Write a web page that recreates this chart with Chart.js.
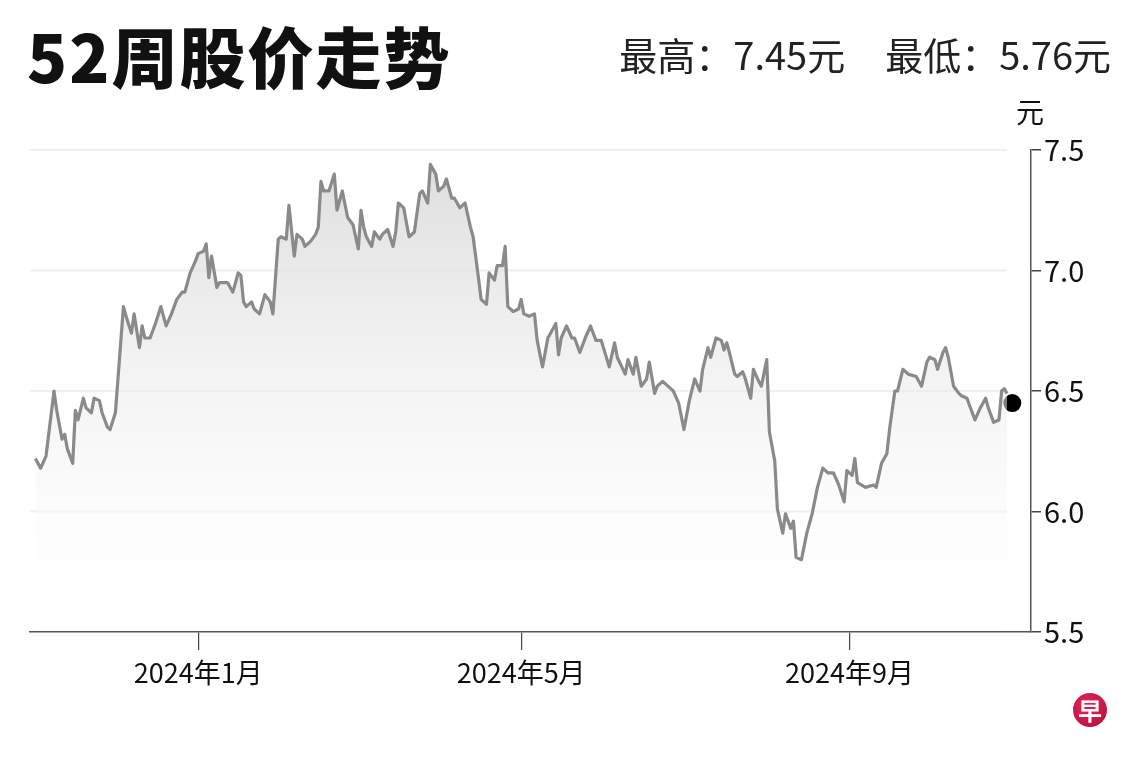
<!DOCTYPE html>
<html>
<head>
<meta charset="utf-8">
<script src="https://cdn.jsdelivr.net/npm/chart.js@4.4.1/dist/chart.umd.min.js"></script>
<style>
html,body{margin:0;padding:0;background:#fff;}
#wrap{position:relative;width:1140px;height:760px;overflow:hidden;font-family:"Noto Sans CJK SC","Noto Sans",sans-serif;color:#111;}
#c{position:absolute;left:0;top:0;}
.title{position:absolute;left:27px;top:18px;font-size:66px;font-weight:900;line-height:1.1;letter-spacing:2px;color:#111;}
.hl{position:absolute;right:29px;top:33px;font-size:38px;line-height:1.1;color:#222;white-space:nowrap;}
.hl span+span{margin-left:40px;}
.unit{position:absolute;left:1016px;top:96px;font-size:28px;line-height:1.1;color:#111;}
.logo{position:absolute;left:1073px;top:693px;width:34px;height:34px;border-radius:50%;background:radial-gradient(circle at 40% 35%,#e0245a,#b30f3c);color:#fff;font-size:24px;font-weight:700;line-height:34px;text-align:center;}
</style>
</head>
<body>
<div id="wrap">
  <canvas id="c" width="1140" height="760"></canvas>
  <div class="title">52周股价走势</div>
  <div class="hl"><span>最高：7.45元</span><span>最低：5.76元</span></div>
  <div class="unit">元</div>
  <div class="logo">早</div>
</div>
<script>
// Days counted from 2024-01-01 (negative = late 2023)
const days = [-61,-59,-57,-54,-53,-51,-50,-49,-47,-46,-45,-43,-42,-40,-39,-37,-36,-34,-33,-31,
  -28,-27,-25,-24,-22,-21,-20,-18,-16,-14,-12,-10,-8,-6,-5,-3,-1,0,2,3,4,5,7,8,11,13,15,16,17,18,
  20,21,23,25,27,28,30,31,33,34,36,37,39,40,42,44,45,46,47,49,51,52,54,56,58,60,61,62,63,65,
  66,68,69,71,73,74,75,77,79,81,83,84,86,87,89,90,92,93,95,96,98,100,102,103,105,106,108,109,111,112,
  114,115,116,118,120,121,122,124,126,127,129,131,132,134,135,136,138,140,141,143,145,147,149,151,154,156,157,160,
  161,163,164,166,168,169,171,172,174,176,178,180,182,184,186,188,189,191,192,194,196,197,198,199,201,202,
  204,205,207,208,210,211,213,214,216,217,219,220,222,223,224,226,228,230,232,234,236,238,240,242,243,245,
  246,247,250,253,254,256,258,259,261,262,264,266,269,271,273,274,276,277,279,280,281,283,285,286,288,289,
  291,293,295,296,298,300,301,302,303];
const prices = [6.22,6.18,6.23,6.50,6.42,6.30,6.32,6.26,6.20,6.42,6.38,6.47,6.43,6.41,6.47,6.46,6.41,6.35,6.34,6.41,
  6.85,6.81,6.74,6.82,6.68,6.77,6.72,6.72,6.78,6.85,6.77,6.82,6.88,6.91,6.91,6.99,7.04,7.07,7.08,7.11,6.97,7.06,6.93,6.95,6.95,6.91,6.99,6.98,6.87,6.85,
  6.87,6.84,6.82,6.90,6.87,6.82,7.13,7.14,7.13,7.27,7.06,7.15,7.13,7.10,7.12,7.15,7.18,7.37,7.33,7.33,7.40,7.25,7.33,7.22,7.19,7.09,7.25,7.18,7.14,7.10,
  7.16,7.13,7.15,7.17,7.10,7.16,7.28,7.26,7.14,7.16,7.32,7.33,7.28,7.44,7.40,7.33,7.35,7.38,7.30,7.30,7.26,7.28,7.18,7.14,6.97,6.88,6.86,6.99,6.96,7.02,
  7.02,7.10,6.85,6.83,6.84,6.88,6.82,6.81,6.82,6.71,6.60,6.72,6.74,6.78,6.65,6.72,6.77,6.72,6.72,6.66,6.72,6.77,6.71,6.71,6.60,6.70,6.64,6.57,
  6.63,6.57,6.64,6.52,6.55,6.62,6.49,6.52,6.54,6.52,6.50,6.45,6.34,6.46,6.55,6.50,6.59,6.68,6.64,6.72,6.71,6.67,6.70,6.66,6.57,6.56,
  6.58,6.55,6.47,6.59,6.54,6.52,6.63,6.33,6.21,6.01,5.91,5.99,5.93,5.96,5.81,5.80,5.91,5.99,6.10,6.18,6.16,6.16,6.11,6.04,6.17,6.15,
  6.22,6.12,6.10,6.11,6.10,6.20,6.24,6.34,6.50,6.50,6.59,6.57,6.56,6.52,6.62,6.64,6.63,6.59,6.66,6.68,6.64,6.52,6.49,6.48,6.47,6.44,
  6.38,6.43,6.47,6.43,6.37,6.38,6.50,6.51,6.49];
const lastDay = 305;
const lastPrice = 6.45;
const xTickDays = [0, 121, 244];
const xTickLabels = ['2024年1月', '2024年5月', '2024年9月'];
const yTicks = [5.5, 6.0, 6.5, 7.0, 7.5];
const xMin = -63, xMax = 312;

const FONT = '"Noto Sans CJK SC","Noto Sans",sans-serif';

const softGrid = {
  id: 'softGrid',
  beforeDatasetsDraw(chart) {
    const {ctx, chartArea, scales} = chart;
    const xEnd = scales.x.getPixelForValue(days[days.length - 1]);
    ctx.save();
    ctx.strokeStyle = '#efefef';
    ctx.lineWidth = 2;
    yTicks.forEach(v => {
      if (v === yTicks[0]) return;
      const py = scales.y.getPixelForValue(v);
      ctx.beginPath();
      ctx.moveTo(chartArea.left, py);
      ctx.lineTo(xEnd, py);
      ctx.stroke();
    });
    ctx.restore();
  }
};

new Chart(document.getElementById('c'), {
  type: 'line',
  data: {
    datasets: [
      {
        data: days.map((d, i) => ({x: d, y: prices[i]})),
        borderColor: '#8a8a8a',
        borderWidth: 3.2,
        borderJoinStyle: 'round',
        pointRadius: 0,
        tension: 0,
        fill: 'start',
        backgroundColor(ctx) {
          const a = ctx.chart.chartArea;
          if (!a) return 'rgba(0,0,0,0)';
          const g = ctx.chart.ctx.createLinearGradient(0, a.top, 0, a.bottom);
          g.addColorStop(0, 'rgba(212,212,212,0.8)');
          g.addColorStop(0.8, 'rgba(250,250,250,0.4)');
          g.addColorStop(1, 'rgba(255,255,255,0)');
          return g;
        }
      },
      {
        data: [{x: lastDay, y: lastPrice}],
        showLine: false,
        pointRadius: 9,
        pointBackgroundColor: '#000',
        pointBorderWidth: 0,
        clip: false
      }
    ]
  },
  options: {
    responsive: false,
    animation: false,
    devicePixelRatio: 1,
    layout: {padding: {left: 30, top: 150, right: 0, bottom: 0}},
    plugins: {legend: {display: false}, tooltip: {enabled: false}},
    scales: {
      x: {
        type: 'linear',
        min: xMin,
        max: xMax,
        afterBuildTicks(s) { s.ticks = xTickDays.map(v => ({value: v})); },
        afterFit(s) { s.height = 128; },
        ticks: {
          callback: (v, i) => xTickLabels[i],
          autoSkip: false,
          maxRotation: 0,
          font: {size: 27, family: FONT},
          color: '#111',
          padding: 7
        },
        grid: {drawOnChartArea: false, drawTicks: true, tickLength: 18, color: '#444', lineWidth: 1.2},
        border: {display: true, color: '#555', width: 1.5}
      },
      y: {
        position: 'right',
        min: 5.5,
        max: 7.5,
        afterBuildTicks(s) { s.ticks = yTicks.map(v => ({value: v})); },
        afterFit(s) { s.width = 109; },
        ticks: {
          callback: v => Number(v).toFixed(1),
          font: {size: 29, family: FONT},
          color: '#111',
          padding: 3
        },
        grid: {drawOnChartArea: false, drawTicks: true, tickLength: 10, color: '#444', lineWidth: 1.5},
        border: {display: true, color: '#555', width: 1.5}
      }
    }
  },
  plugins: [softGrid]
});
</script>
</body>
</html>
